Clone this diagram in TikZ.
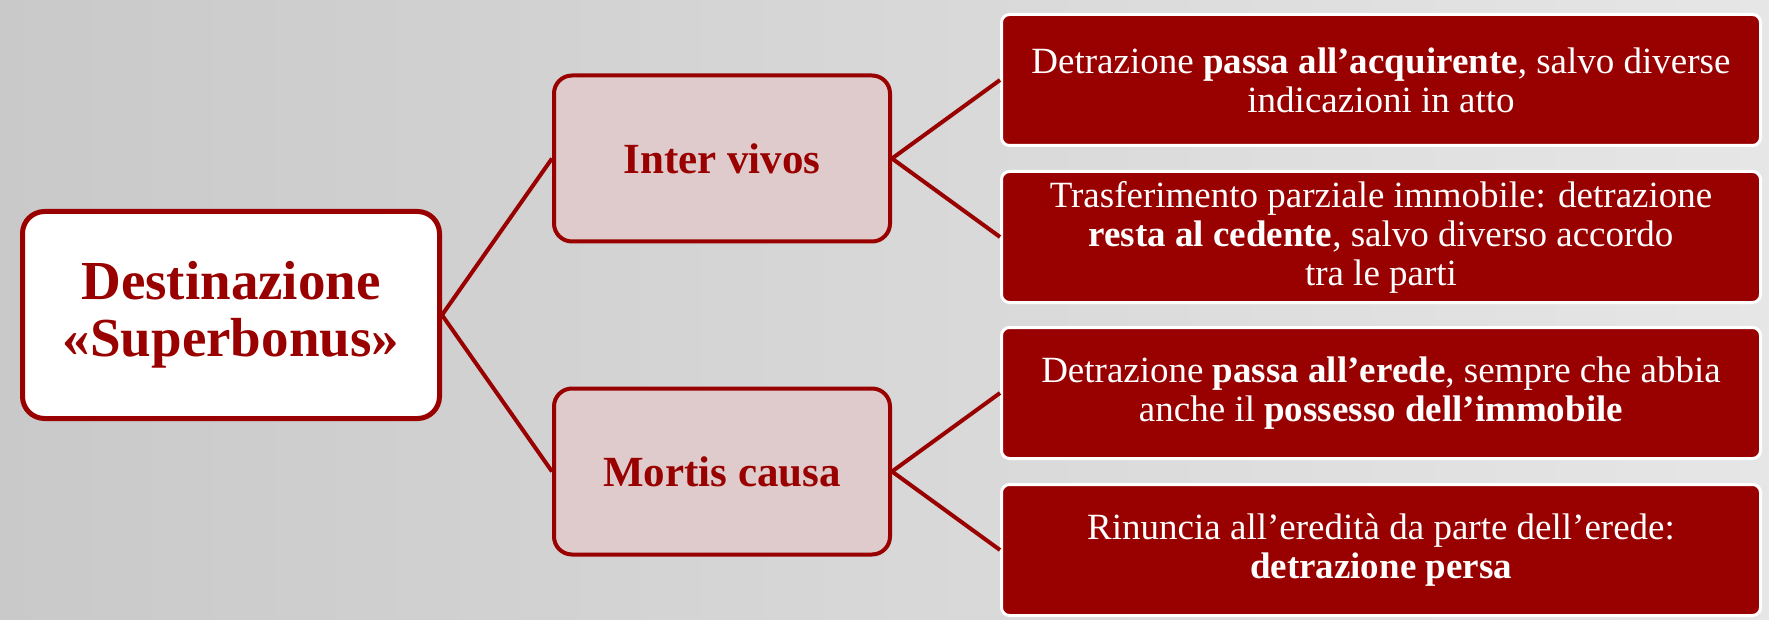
\documentclass[tikz,border=0pt]{standalone}
\usepackage{fontspec}
\setmainfont{Liberation Serif}
\usepackage{xcolor}
\definecolor{bordeaux}{HTML}{990000}
\definecolor{rosa}{HTML}{DFCBCB}
\definecolor{sfondoL}{HTML}{C9C9C9}
\definecolor{sfondoR}{HTML}{E6E6E6}

\begin{document}
\begin{tikzpicture}[x=1pt, y=1pt, grow'=right, every node/.style={rectangle, align=center},%
        radice/.style={draw=bordeaux, line width=5pt, fill=white, rounded corners=22pt, minimum width=417pt, minimum height=207pt, text=bordeaux, font=\fontsize{55}{57}\selectfont\bfseries},
        ramo/.style={draw=bordeaux, line width=4pt, fill=rosa, rounded corners=18pt, minimum width=336pt, minimum height=166pt, text=bordeaux, font=\fontsize{43}{48}\selectfont\bfseries},
        foglia/.style={draw=white, line width=3pt, fill=bordeaux, rounded corners=8pt, minimum width=759pt, minimum height=131pt, text=white, font=\fontsize{37}{39}\selectfont},
        edge from parent/.style={draw=bordeaux, line width=4pt},
        edge from parent path={(\tikzparentnode.east) -- (\tikzchildnode.west)},
        level 1/.style={level distance=491pt, sibling distance=313pt}, level 2/.style={level distance=659pt, sibling distance=157pt}]
        \shade[left color=sfondoL, right color=sfondoR] (0,0) rectangle (1769,-620);
        \useasboundingbox (0,0) rectangle (1769,-620);
        \node[radice] (dest) at (231,-315) {Destinazione\\«Superbonus»}
        child { node[ramo] (inter) {Inter vivos}
                child { node[foglia] (acquirente) {Detrazione \textbf{passa all'acquirente}, salvo diverse\\indicazioni in atto} }
                child { node[foglia] (cedente) {Trasferimento parziale immobile: detrazione\\\textbf{resta al cedente}, salvo diverso accordo\\tra le parti} }
        }
        child { node[ramo] (mortis) {Mortis causa}
                child { node[foglia] (erede) {Detrazione \textbf{passa all'erede}, sempre che abbia\\anche il \textbf{possesso dell'immobile}} }
                child { node[foglia] (rinuncia) {Rinuncia all'eredità da parte dell'erede:\\\textbf{detrazione persa}} }
        };
    \end{tikzpicture}
\end{document}
